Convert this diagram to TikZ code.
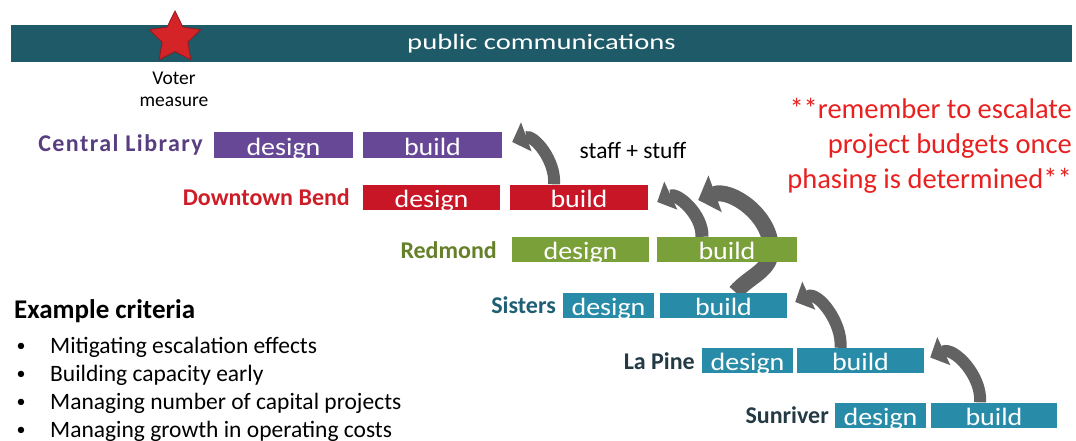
\documentclass[tikz,border=0pt]{standalone}
\usepackage{fontspec}
\setmainfont{Carlito}
\newfontfamily\phasefont[FakeStretch=1.12]{Carlito}
\newfontfamily\bannerfont[FakeStretch=1.3]{Carlito}
\usetikzlibrary{shapes.geometric,arrows.meta,backgrounds}
\definecolor{banner}{RGB}{31,90,104}
\definecolor{starred}{RGB}{212,36,40}
\definecolor{clbox}{RGB}{103,72,150}
\definecolor{cltext}{RGB}{88,62,128}
\definecolor{dbbox}{RGB}{200,22,38}
\definecolor{dbtext}{RGB}{205,30,40}
\definecolor{rmbox}{RGB}{122,160,58}
\definecolor{rmtext}{RGB}{100,128,40}
\definecolor{tealbox}{RGB}{40,140,168}
\definecolor{sitext}{RGB}{30,95,115}
\definecolor{lptext}{RGB}{35,58,68}
\definecolor{arrowgray}{RGB}{98,98,98}
\definecolor{notered}{RGB}{232,32,32}

\begin{document}
\begin{tikzpicture}[x=1pt,y=-1pt,
		phase/.style={minimum height=25pt,inner sep=0pt,text height=22.5pt,text depth=2.5pt,text=white,font=\phasefont\fontsize{25}{25}\selectfont},
		proj/.style={anchor=east,inner sep=0pt,font=\bfseries\fontsize{24}{24}\selectfont},
		crit/.style={anchor=west,inner sep=0pt,font=\fontsize{23.5}{23.5}\selectfont},
		dot/.style={inner sep=0pt,font=\fontsize{18}{18}\selectfont},
		hand/.style={line width=12pt,draw=arrowgray,-{Triangle[length=15pt,width=30pt]}}]
			\useasboundingbox (0,0) rectangle (1076,441);
			\node (banner) [fill=banner,text=white,minimum width=1061pt,minimum height=37pt,inner sep=0pt,text height=17pt,text depth=4pt,font=\bannerfont\fontsize{22}{22}\selectfont] at (541.5,43.5) {public communications};
			\node (star) [star,star points=5,star point ratio=2.0,minimum size=54pt,inner sep=0pt,fill=starred,draw=starred!70!black,thick] at (175,38) {};
			\node (voter) [align=center,inner sep=0pt,font=\fontsize{19.5}{22}\selectfont] at (174,89) {Voter\\measure};
			\node (clname) [proj,text=cltext,font=\bfseries\fontsize{24}{24}\selectfont\addfontfeature{LetterSpace=6}] at (203,145) {Central Library};
			\node (cldesign) [phase,fill=clbox,minimum width=139pt] at (283.5,145) {design};
			\node (clbuild) [phase,fill=clbox,minimum width=139pt] at (432.5,145) {build};
			\node (dbname) [proj,text=dbtext] at (350,197) {Downtown Bend};
			\node (dbdesign) [phase,fill=dbbox,minimum width=137pt] at (431.5,197) {design};
			\node (dbbuild) [phase,fill=dbbox,minimum width=138pt] at (579,197) {build};
			\node (rmname) [proj,text=rmtext] at (497,250) {Redmond};
			\node (rmdesign) [phase,fill=rmbox,minimum width=137pt] at (580.5,249.5) {design};
			\node (rmbuild) [phase,fill=rmbox,minimum width=140pt] at (727,249.5) {build};
			\node (siname) [proj,text=sitext] at (556,305) {Sisters};
			\node (sidesign) [phase,fill=tealbox,minimum width=91pt] at (608.5,305) {design};
			\node (sibuild) [phase,fill=tealbox,minimum width=127pt] at (723.5,305) {build};
			\node (lpname) [proj,text=lptext] at (695,361) {La Pine};
			\node (lpdesign) [phase,fill=tealbox,minimum width=91pt] at (747.5,360.5) {design};
			\node (lpbuild) [phase,fill=tealbox,minimum width=127pt] at (860.5,360.5) {build};
			\node (srname) [proj,text=lptext] at (829,415) {Sunriver};
			\node (srdesign) [phase,fill=tealbox,minimum width=91pt] at (880.5,415) {design};
			\node (srbuild) [phase,fill=tealbox,minimum width=126pt] at (994,415) {build};
			\node (staff) [inner sep=0pt,font=\fontsize{23.5}{23.5}\selectfont] at (633,150) {staff + stuff};
			\node (note) [anchor=east,align=right,inner sep=0pt,text=notered,font=\fontsize{28.5}{35}\selectfont] at (1072,146) {**remember to escalate\\project budgets once\\phasing is determined**};
			\coordinate (sibend) at ([xshift=44pt]rmbuild.center);
			\coordinate (sitip) at ([xshift=50pt,yshift=-3pt]dbbuild.east);
			\begin{scope}[on background layer]
				\draw[hand] ([xshift=-25pt]dbbuild.north) to[out=85,in=20] ([xshift=10pt,yshift=3pt]clbuild.east);
				\draw[hand,line width=13pt,-{Triangle[length=15pt,width=30pt]}] ([xshift=-25pt]rmbuild.north) to[out=88,in=25] ([xshift=9pt,yshift=-5pt]dbbuild.east);
				\draw[hand,line width=16pt,-{Triangle[length=18pt,width=38pt]}] ([xshift=12pt]sibuild.north) to[out=50,in=-90] (sibend) to[out=90,in=20] (sitip);
				\draw[hand] ([xshift=-20pt]lpbuild.north) to[out=85,in=25] ([xshift=8pt,yshift=3pt]sibuild.east);
				\draw[hand] ([xshift=-14pt]srbuild.north) to[out=85,in=25] ([xshift=6pt,yshift=3pt]lpbuild.east);
			\end{scope}
			\node (crithead) [anchor=west,inner sep=0pt,font=\bfseries\fontsize{27}{27}\selectfont] at (14,311) {Example criteria};
			\node (b1) [dot] at (21,347) {•};
			\node (c1) [crit] at (50,347) {Mitigating escalation effects};
			\node (b2) [dot] at (21,375) {•};
			\node (c2) [crit] at (50,375) {Building capacity early};
			\node (b3) [dot] at (21,403) {•};
			\node (c3) [crit] at (50,403) {Managing number of capital projects};
			\node (b4) [dot] at (21,431) {•};
			\node (c4) [crit] at (50,431) {Managing growth in operating costs};
		\end{tikzpicture}
\end{document}
